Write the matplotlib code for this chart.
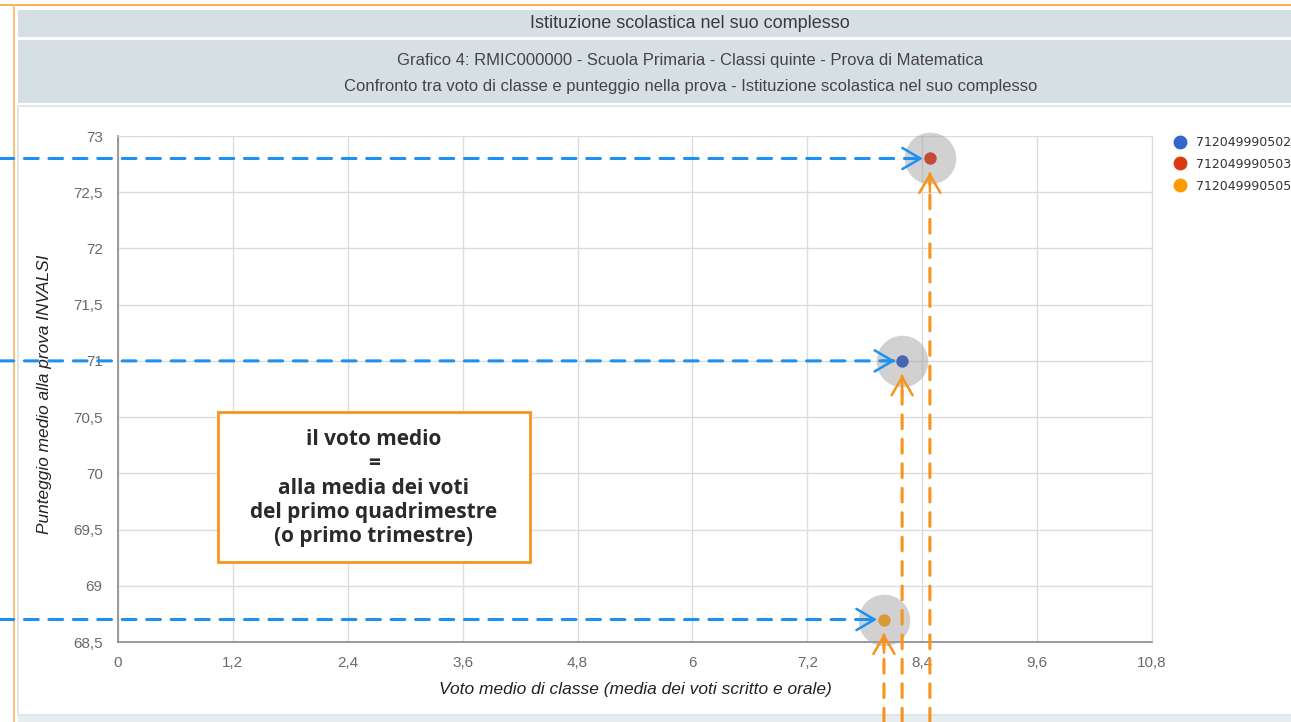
import matplotlib
matplotlib.use("Agg")
import matplotlib.pyplot as plt
from matplotlib.patches import Rectangle
from matplotlib.lines import Line2D

# Data
class_codes = ["712049990502", "712049990503", "712049990505"]
class_votes = [8.19, 8.48, 8.0]
class_scores = [71.0, 72.8, 68.7]
point_colors = ["#3366cc", "#dc3912", "#ff9900"]
dot_colors = ["#4665b5", "#c4493a", "#d99a35"]

x_ticks = [0, 1.2, 2.4, 3.6, 4.8, 6, 7.2, 8.4, 9.6, 10.8]
y_ticks = [68.5, 69, 69.5, 70, 70.5, 71, 71.5, 72, 72.5, 73]

header_title = "Istituzione scolastica nel suo complesso"
chart_title_1 = "Grafico 4: RMIC000000 - Scuola Primaria - Classi quinte - Prova di Matematica"
chart_title_2 = ("Confronto tra voto di classe e punteggio nella prova - "
                 "Istituzione scolastica nel suo complesso")
x_label = "Voto medio di classe (media dei voti scritto e orale)"
y_label = "Punteggio medio alla prova INVALSI"
note_text = ("il voto medio\n=\nalla media dei voti\n"
             "del primo quadrimestre\n(o primo trimestre)")

W, H = 1291, 722
BAND = "#d6e0e4"
BLUE_ARROW = "#1e90f0"
ORANGE_ARROW = "#f7941d"


def fx(px):
    return px / W


def fy(py):
    return 1 - py / H


def fmt(v):
    s = f"{v:g}"
    return s.replace(".", ",")


plt.rcParams["font.family"] = ["Liberation Sans", "DejaVu Sans"]

fig = plt.figure(figsize=(W / 100, H / 100), dpi=100)
fig.patch.set_facecolor("white")

# frame and header bands (kept behind the axes)
bg = dict(zorder=-5)
fig.add_artist(Line2D([fx(0), fx(W)], [fy(5), fy(5)], color="#f5b45a", lw=1.5, **bg))
fig.add_artist(Line2D([fx(14), fx(14)], [fy(5), fy(H)], color="#f5c47a", lw=1.5, **bg))
fig.add_artist(Rectangle((fx(18), fy(37)), fx(W), 27 / H, color=BAND, lw=0, **bg))
fig.add_artist(Rectangle((fx(18), fy(103)), fx(W), 63 / H, color=BAND, lw=0, **bg))
fig.add_artist(Rectangle((fx(18), fy(715)), fx(W), 609 / H, facecolor="white",
                         edgecolor="#dfe7ea", lw=1.5, **bg))
fig.add_artist(Rectangle((fx(18), fy(H)), fx(W), 6 / H, color="#e6eef0", lw=0, **bg))

fig.text(fx(690), fy(23), header_title, ha="center", va="center",
         fontsize=13, color="#3a3a3a")
fig.text(fx(690), fy(60), chart_title_1, ha="center", va="center",
         fontsize=12, color="#444444")
fig.text(fx(691), fy(87), chart_title_2, ha="center", va="center",
         fontsize=12, color="#444444")

# plot area
ax = fig.add_axes([fx(118), fy(642), (1152 - 118) / W, (642 - 136) / H])
ax.patch.set_alpha(0)
ax.set_xlim(x_ticks[0], x_ticks[-1])
ax.set_ylim(y_ticks[0], y_ticks[-1])
ax.set_xticks(x_ticks)
ax.set_yticks(y_ticks)
ax.set_xticklabels([fmt(v) for v in x_ticks])
ax.set_yticklabels([fmt(v) for v in y_ticks])
ax.tick_params(length=0, labelsize=11, labelcolor="#6a6a6a")
ax.tick_params(axis="x", pad=10)
ax.tick_params(axis="y", pad=11)
ax.grid(True, color="#dcdcdc", lw=1)
ax.set_axisbelow(True)
for side in ["top", "right"]:
    ax.spines[side].set_color("#dcdcdc")
for side in ["left", "bottom"]:
    ax.spines[side].set_color("#8a8a8a")
    ax.spines[side].set_linewidth(1.2)

ax.set_xlabel(x_label, fontsize=12.5, style="italic", color="#222222")
ax.xaxis.set_label_coords(0.5, -0.08)
ax.xaxis.label.set_va("top")
ax.set_ylabel(y_label, fontsize=12.4, style="italic", color="#222222")
ax.yaxis.set_label_coords(-0.0706, 0.49)
ax.yaxis.label.set_va("center")

# halos and points
ax.scatter(class_votes, class_scores, s=1380, color="#9a9a9a", alpha=0.45,
           lw=0, zorder=3, clip_on=False)
for code, xv, yv, c in zip(class_codes, class_votes, class_scores, dot_colors):
    ax.scatter([xv], [yv], s=80, color=c, lw=0, zorder=4, clip_on=False)

# legend
handles = [Line2D([], [], marker="o", ls="", markersize=10, color=c,
                  markeredgewidth=0) for c in point_colors]
leg = fig.legend(handles, class_codes, loc="upper left",
                 bbox_to_anchor=(fx(1174), fy(136)), frameon=False,
                 handletextpad=0.75, labelspacing=0.7,
                 borderaxespad=0, handlelength=1.0, borderpad=0,
                 prop={"family": "DejaVu Sans", "size": 9})
for t in leg.get_texts():
    t.set_color("#333333")

# dashed arrows pointing to each class
head_kw = dict(arrowstyle="->,head_length=0.65,head_width=0.38",
               lw=1.8, shrinkA=0, mutation_scale=20)
for xv, yv in zip(class_votes, class_scores):
    # horizontal blue arrow from the left edge of the figure
    ax.annotate("", xy=(xv, yv), xycoords="data",
                xytext=(0, yv), textcoords=("figure fraction", "data"),
                arrowprops=dict(arrowstyle="-", color=BLUE_ARROW, lw=2.2,
                                linestyle=(0, (4.5, 3.5)), shrinkA=0, shrinkB=6),
                zorder=5, annotation_clip=False)
    ax.annotate("", xy=(xv, yv), xycoords="data",
                xytext=(-14, 0), textcoords="offset points",
                arrowprops=dict(head_kw, color=BLUE_ARROW, shrinkB=5),
                zorder=5, annotation_clip=False)
    # vertical orange arrow from the bottom edge of the figure
    ax.annotate("", xy=(xv, yv), xycoords="data",
                xytext=(xv, 0), textcoords=("data", "figure fraction"),
                arrowprops=dict(arrowstyle="-", color=ORANGE_ARROW, lw=2.2,
                                linestyle=(0, (4.5, 3.5)), shrinkA=0, shrinkB=11),
                zorder=5, annotation_clip=False)
    ax.annotate("", xy=(xv, yv), xycoords="data",
                xytext=(0, -24), textcoords="offset points",
                arrowprops=dict(head_kw, color=ORANGE_ARROW, shrinkB=10),
                zorder=5, annotation_clip=False)

# note box
fig.add_artist(Rectangle((fx(218), fy(562)), 312 / W, 150 / H, facecolor="white",
                         edgecolor="#f7941d", lw=2, zorder=6))
fig.text(fx(374), fy(488), note_text, ha="center", va="center",
         fontsize=15, fontweight="bold", color="#2a2a2a", linespacing=1.2,
         family=["Open Sans", "DejaVu Sans"], zorder=7)

fig.savefig("out.png", dpi=100)
